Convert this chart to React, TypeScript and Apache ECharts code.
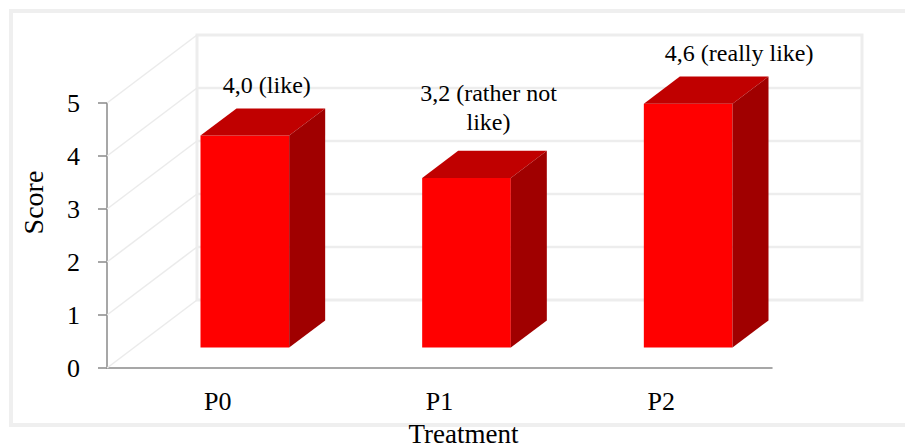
import React, { useEffect, useRef } from "react";
import * as echarts from "echarts";

const categories = ["P0", "P1", "P2"];
const scores = [4.0, 3.2, 4.6];
const scoreLabels = ["4,0 (like)", "3,2 (rather not\nlike)", "4,6 (really like)"];
const yTicks = [0, 1, 2, 3, 4, 5];

// oblique 3D projection (layout constants)
const DEPTH_X = 90;
const DEPTH_Y = -68;
const BAR_FRONT = 0.3;
const BAR_DEPTH = 0.4;
const BAR_WIDTH = 0.4;
const LABEL_SHIFT_X = [4, 4, 33];
const LABEL_LIFT = [9, 14, 9];
const FONT = "'Liberation Serif', 'Times New Roman', serif";

export default function App() {
  const ref = useRef<HTMLDivElement>(null);

  useEffect(() => {
    document.body.style.margin = "0";
    const chart = echarts.init(ref.current!, null, { renderer: "svg" });

    const wallSeries = {
      type: "custom",
      coordinateSystem: "cartesian2d",
      clip: false,
      silent: true,
      z: 1,
      data: yTicks.map((v) => [0, v]),
      renderItem: (params: any, api: any) => {
        const v = api.value(1);
        const cs = params.coordSys;
        const y = api.coord([0, v])[1];
        const left = cs.x;
        const right = cs.x + cs.width;
        const children: any[] = [];
        if (params.dataIndex === 0) {
          const yTop = api.coord([0, yTicks[yTicks.length - 1]])[1] + DEPTH_Y;
          const yBot = api.coord([0, yTicks[0]])[1] + DEPTH_Y;
          children.push({
            type: "rect",
            shape: { x: left + DEPTH_X, y: yTop, width: cs.width, height: yBot - yTop },
            style: { fill: "#ffffff", stroke: "#ededed", lineWidth: 3 },
          });
        }
        children.push({
          type: "line",
          shape: { x1: left, y1: y, x2: left + DEPTH_X, y2: y + DEPTH_Y },
          style: { stroke: "#ebebeb", lineWidth: 1.5 },
        });
        if (v !== yTicks[0] && v !== yTicks[yTicks.length - 1]) {
          children.push({
            type: "line",
            shape: { x1: left + DEPTH_X, y1: y + DEPTH_Y, x2: right + DEPTH_X, y2: y + DEPTH_Y },
            style: { stroke: "#ededed", lineWidth: 2.5 },
          });
        }
        return { type: "group", children };
      },
    };

    const barSeries = {
      type: "custom",
      coordinateSystem: "cartesian2d",
      clip: false,
      z: 2,
      data: scores.map((s, i) => [i, s]),
      renderItem: (params: any, api: any) => {
        const idx = api.value(0);
        const val = api.value(1);
        const base = api.coord([idx, 0]);
        const top = api.coord([idx, val]);
        const band = api.size([1, 0])[0];
        const w = band * BAR_WIDTH;
        const ox = DEPTH_X * BAR_FRONT;
        const oy = DEPTH_Y * BAR_FRONT;
        const dx = DEPTH_X * BAR_DEPTH;
        const dy = DEPTH_Y * BAR_DEPTH;
        const x0 = base[0] - w / 2 + ox;
        const x1 = x0 + w;
        const yb = base[1] + oy;
        const yt = top[1] + oy;
        return {
          type: "group",
          children: [
            {
              type: "rect",
              shape: { x: x0, y: yt, width: w, height: yb - yt },
              style: { fill: "#ff0000" },
            },
            {
              type: "polygon",
              shape: { points: [[x0, yt], [x1, yt], [x1 + dx, yt + dy], [x0 + dx, yt + dy]] },
              style: { fill: "#c00000" },
            },
            {
              type: "polygon",
              shape: { points: [[x1, yt], [x1 + dx, yt + dy], [x1 + dx, yb + dy], [x1, yb]] },
              style: { fill: "#a00000" },
            },
            {
              type: "text",
              x: x0 + w / 2 + dx / 2 + LABEL_SHIFT_X[params.dataIndex],
              y: yt + dy - LABEL_LIFT[params.dataIndex],
              style: {
                text: scoreLabels[params.dataIndex],
                textAlign: "center",
                textVerticalAlign: "bottom",
                font: `24px ${FONT}`,
                lineHeight: 29,
                fill: "#000000",
              },
            },
          ],
        };
      },
    };

    const option: any = {
      animation: false,
      backgroundColor: "#ffffff",
      grid: { left: 107, top: 103, width: 665, height: 265, outerBoundsMode: "none", containLabel: false },
      xAxis: {
        type: "category",
        data: categories,
        boundaryGap: true,
        axisLine: { lineStyle: { color: "#8a8a8a", width: 1.5 } },
        axisTick: { show: false },
        axisLabel: { fontSize: 26, fontFamily: FONT, color: "#000000", margin: 20 },
        name: "Treatment",
        nameLocation: "middle",
        nameGap: 53,
        nameTextStyle: {
          fontSize: 27,
          lineHeight: 26,
          fontFamily: FONT,
          color: "#000000",
          padding: [0, 0, 0, 48],
        },
      },
      yAxis: {
        type: "value",
        min: 0,
        max: 5,
        interval: 1,
        axisLine: { show: true, lineStyle: { color: "#8a8a8a", width: 1.5 } },
        axisTick: { show: true, length: 9, lineStyle: { color: "#8a8a8a", width: 1.5 } },
        splitLine: { show: false },
        axisLabel: { fontSize: 26, fontFamily: FONT, color: "#000000", margin: 27 },
        name: "Score",
        nameLocation: "middle",
        nameGap: 60,
        nameRotate: 90,
        nameTextStyle: { fontSize: 28, fontFamily: FONT, color: "#000000", padding: [0, 0, 0, 66] },
      },
      graphic: [
        {
          type: "rect",
          silent: true,
          z: -10,
          shape: { x: 11, y: 11, width: 930, height: 414 },
          style: { fill: "none", stroke: "#efefef", lineWidth: 4 },
        },
      ],
      series: [wallSeries, barSeries],
    };

    chart.setOption(option);
    return () => chart.dispose();
  }, []);

  return <div ref={ref} style={{ width: 905, height: 448 }} />;
}
